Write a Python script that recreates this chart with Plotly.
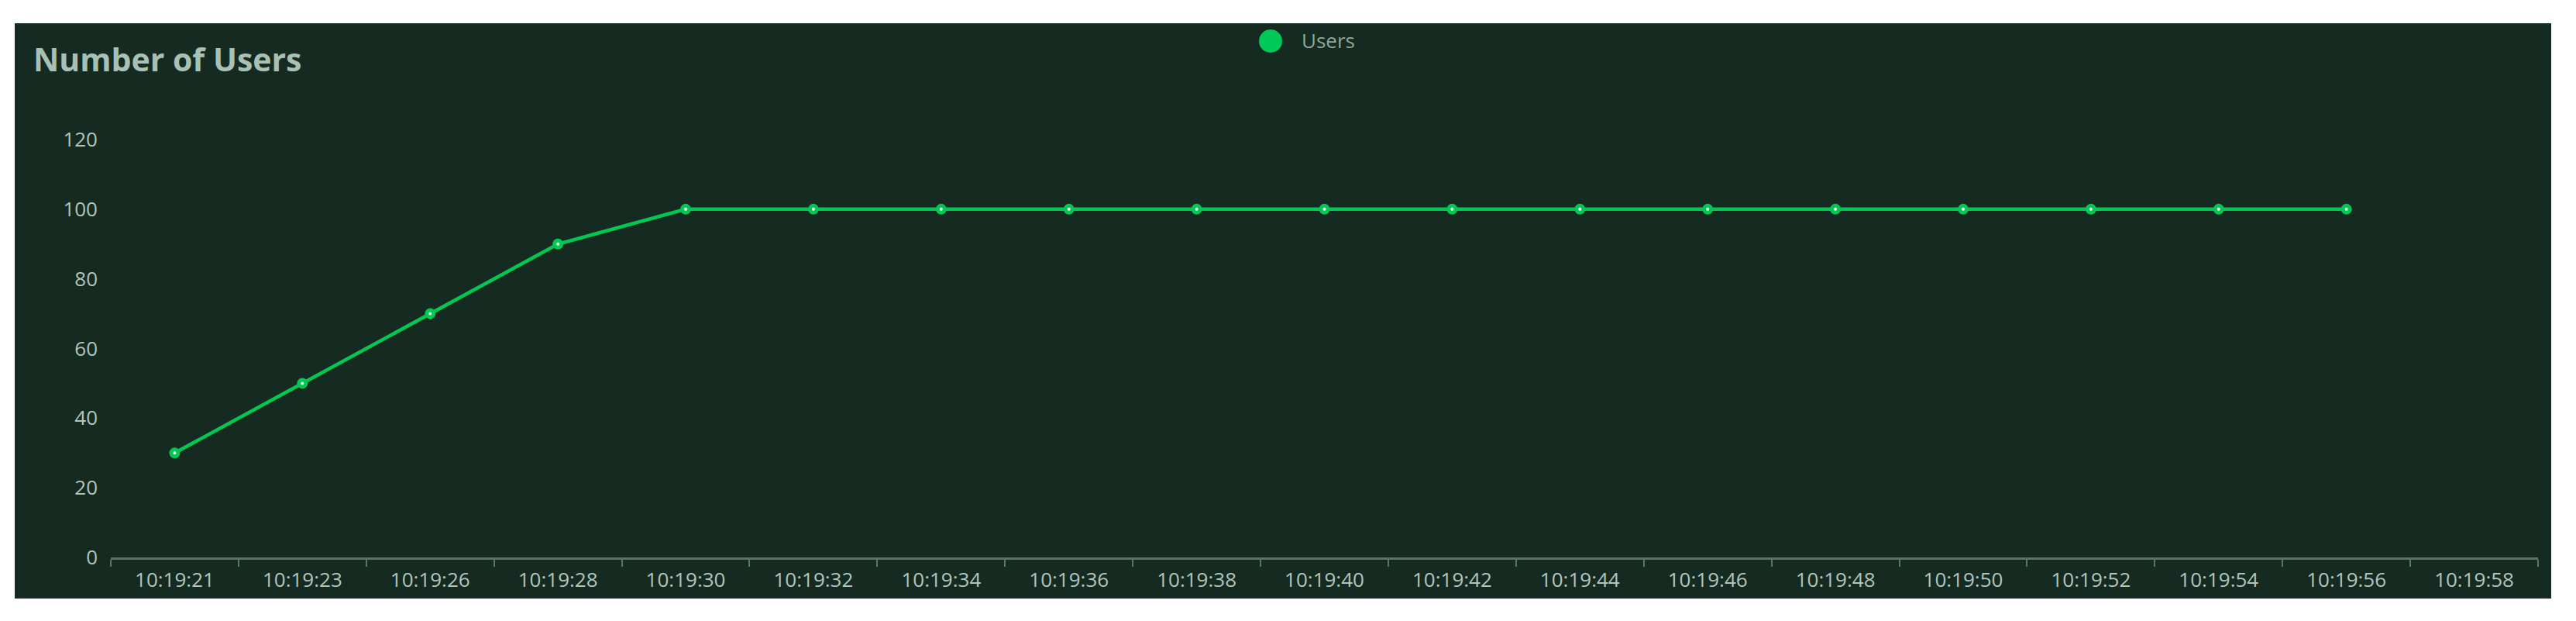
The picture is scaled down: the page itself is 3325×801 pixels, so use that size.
import plotly.graph_objects as go

# ---- data ----
categories = ["10:19:21", "10:19:23", "10:19:26", "10:19:28", "10:19:30", "10:19:32",
              "10:19:34", "10:19:36", "10:19:38", "10:19:40", "10:19:42", "10:19:44",
              "10:19:46", "10:19:48", "10:19:50", "10:19:52", "10:19:54", "10:19:56",
              "10:19:58"]
users = [30, 50, 70, 90, 100, 100, 100, 100, 100, 100, 100, 100, 100, 100, 100, 100,
         100, 100, None]
y_ticks = [0, 20, 40, 60, 80, 100, 120]
series_name = "Users"
title_text = "Number of Users"

# ---- style ----
OFF = 8  # page body margin
W, H = 3325 - 2 * OFF, 801 - 2 * OFF
# plot area in page pixels: x 143..3276, y 180..719
L = 143 - OFF
R = W - (3276 - OFF)
T = 180 - OFF
B = H - (719 - OFF)
BG = "#152b22"
LINE = "#00c853"
TICK_C = "#b3c5bb"
AXIS_C = "#5b7468"
TITLE_C = "#a9c0b4"
LEG_C = "#8fa698"
FONT = "Open Sans"

pw, ph = W - L - R, H - T - B
def px_x(p):
    return (p - OFF - L) / pw
def px_y(p):
    return (H - B - (p - OFF)) / ph

fig = go.Figure()
fig.add_trace(go.Scatter(
    x=categories, y=users, mode="lines+markers", name=series_name,
    line=dict(color=LINE, width=4.5),
    marker=dict(size=9, color="#ffffff", line=dict(color=LINE, width=5)),
    showlegend=False, connectgaps=False,
))

shapes = [
    dict(type="rect", xref="paper", yref="paper", layer="below",
         x0=px_x(19), x1=px_x(3293), y0=px_y(772), y1=px_y(30),
         fillcolor=BG, line=dict(width=0)),
    dict(type="circle", xref="paper", yref="paper", layer="above",
         x0=px_x(1625), x1=px_x(1655), y0=px_y(68), y1=px_y(38),
         fillcolor="#00c957", line=dict(width=0)),
]
annotations = [
    dict(text=f"<b>{title_text}</b>", xref="paper", yref="paper",
         x=px_x(41), y=px_y(76), xanchor="left", yanchor="middle", showarrow=False,
         font=dict(family=FONT, size=41, color=TITLE_C)),
    dict(text=series_name, xref="paper", yref="paper",
         x=px_x(1678), y=px_y(52), xanchor="left", yanchor="middle", showarrow=False,
         font=dict(family=FONT, size=26, color=LEG_C)),
]

fig.update_layout(
    width=W, height=H,
    margin=dict(l=L, r=R, t=T, b=B, pad=0),
    paper_bgcolor="#ffffff", plot_bgcolor="rgba(0,0,0,0)",
    font=dict(family=FONT, size=26, color=TICK_C),
    shapes=shapes, annotations=annotations,
    showlegend=False,
)
fig.update_xaxes(
    type="category", categoryorder="array", categoryarray=categories,
    range=[-0.5, len(categories) - 0.5],
    tickson="boundaries", ticks="outside", ticklen=9, tickwidth=2, tickcolor=AXIS_C,
    showline=True, linecolor=AXIS_C, linewidth=3, showgrid=False, zeroline=False,
    tickfont=dict(family=FONT, size=26, color=TICK_C), ticklabelstandoff=4,
)
fig.update_yaxes(
    range=[0, 120], tickvals=y_ticks, showgrid=False, zeroline=False, showline=False,
    ticks="", tickfont=dict(family=FONT, size=26, color=TICK_C), ticklabelstandoff=16,
)

fig.write_html("out.html")
